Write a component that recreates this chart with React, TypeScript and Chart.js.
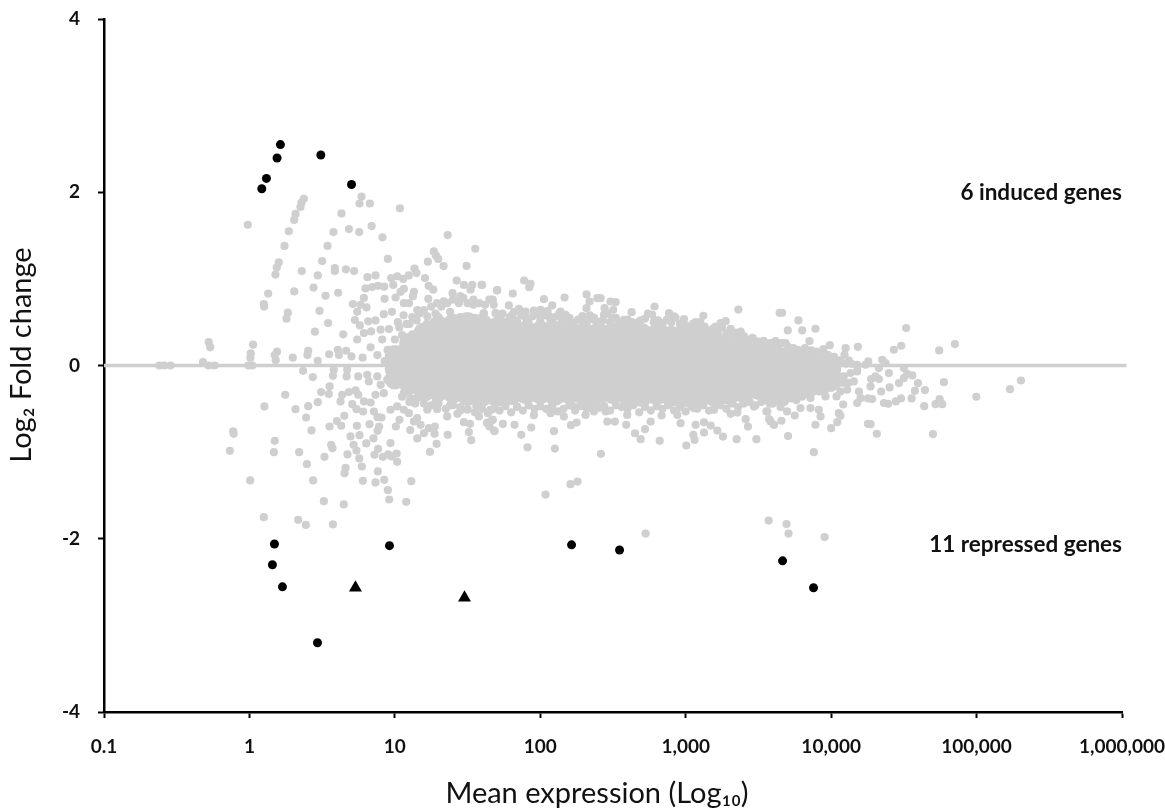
import React, { useEffect, useRef } from "react";
import { Chart, registerables } from "chart.js";

Chart.register(...registerables);

// All pairs are [log10 of mean expression, log2 fold change].
type Pair = [number, number];

const xTickValues = [0.1, 1, 10, 100, 1000, 10000, 100000, 1000000];
const xTickLabels = ["0.1", "1", "10", "100", "1,000", "10,000", "100,000", "1,000,000"];
const yTickValues = [-4, -2, 0, 2, 4];

const inducedCircles: Pair[] = [[0.213, 2.55], [0.19, 2.395], [0.491, 2.43], [0.117, 2.16], [0.085, 2.04], [0.702, 2.09]];
const repressedCircles: Pair[] = [[0.172, -2.06], [0.158, -2.3], [0.227, -2.555], [0.468, -3.2], [0.963, -2.08], [2.215, -2.07], [2.545, -2.13], [3.666, -2.255], [3.879, -2.565]];
const repressedTriangles: Pair[] = [[0.729, -2.565], [1.479, -2.68]];

const zeroLineEnds = [-1, 6.03];

const lowUpper: Pair[] = [
  [0.374,1.925],[0.358,1.88],[0.351,1.83],[0.317,1.75],[0.308,1.68],[-0.011,1.625],[0.271,1.55],[0.241,1.38],[0.202,1.19],[0.188,1.13],[0.179,1.05],[0.129,0.83],[0.099,0.71],[0.101,0.68],[0.308,0.855],[0.264,0.61],[0.255,0.54],[0.36,1.09],[0.47,1.04],[0.441,0.9],[0.523,0.805],[0.61,0.84],[0.482,0.63],[0.541,0.49],[0.45,0.39],[0.645,0.36],[0.5,1.205],[0.537,1.38],[0.578,1.54],[0.633,1.756],[0.684,1.575],[0.755,1.54],[0.84,1.61],[0.915,1.48],[0.952,1.23],[0.587,1.125],[0.587,1.09],[0.663,1.11],[0.72,1.09],[0.771,1.95],[0.757,1.87],[0.828,1.87],[1.035,1.814],[1.363,1.506],[1.553,1.348],[1.268,1.317],[1.282,1.27],[1.298,1.23],[1.227,1.198],[1.335,1.148],[1.493,1.15],[1.135,1.12],[1.149,1.067],[1.207,1.01],[1.096,1.04],[1.057,1.0],[1.016,1.03],[0.975,1.01],[0.989,0.93],[0.812,1.02],[0.867,1.04],[0.798,0.89],[0.844,0.905],[0.885,0.92],[0.927,0.91],[1.062,0.886],[1.039,0.85],[1.005,0.785],[0.929,0.77],[1.131,0.85],[1.124,0.8],[1.232,0.92],[1.264,0.875],[1.23,0.77],[1.425,0.98],[1.475,0.93],[1.532,0.93],[1.596,0.93],[1.52,0.875],[1.397,0.835],[1.702,0.867],[1.672,0.76],[1.7,0.6],[0.711,0.71],[0.787,0.78],[0.764,0.7],[0.741,0.62],[0.805,0.67],[0.725,0.525],[0.759,0.463],[0.817,0.51],[0.867,0.52],[0.924,0.593],[1.062,0.72],[1.097,0.72],[1.154,0.64],[1.223,0.566],[1.29,0.72],[1.337,0.74],[1.45,0.8],[1.54,0.7],[1.61,0.6],[0.741,0.3],[0.787,0.374],[0.837,0.393],[0.833,0.21],[0.902,0.413],[0.913,0.3],[-0.28,0.27],[-0.27,0.21],[0.025,0.24],[0.009,0.14],[0.007,0.09],[0.19,0.16],[0.174,0.12],[0.181,0.06],[0.298,0.09],[0.404,0.17],[0.399,0.12],[0.47,0.055],[0.548,0.13],[0.608,0.18],[0.615,0.12],[0.665,0.17],[0.702,0.105],[0.778,0.09],
  [-0.319,0.04],[-0.282,0],[-0.24,0],[-0.619,0],[-0.585,0],[-0.543,0],[-0.007,0],[0.02,0],
  [0.98,0.62],[1.02,0.5],[1.06,0.58],[1.1,0.48],[1.15,0.52],[0.96,0.42],[1.0,0.3],[1.05,0.35],[1.12,0.36],[0.95,0.18],[1.0,0.12],[1.05,0.2],[1.1,0.16],[0.88,0.12],[0.93,0.05],[0.98,0.0],[1.03,0.04],[1.08,0.02],[1.13,0.1],[1.18,0.42],[1.22,0.48],[1.3,0.56],[1.38,0.62],[1.45,0.56],[1.55,0.55],
  [1.32,0.68],[1.36,0.72],[1.4,0.76],[1.44,0.72],[1.47,0.78],[1.5,0.72],[1.54,0.76],[1.58,0.72],[1.62,0.7],[1.65,0.76],[1.68,0.7],[1.03,0.44],[1.08,0.48],[1.12,0.56],[1.17,0.6],[1.2,0.64],[1.25,0.68],[1.28,0.6],
];

const lowLower: Pair[] = [
  [0.369,-0.061],[0.436,-0.134],[0.246,-0.338],[0.103,-0.473],[0.317,-0.504],[0.404,-0.469],[0.47,-0.423],[0.493,-0.307],[0.546,-0.33],[0.551,-0.242],[0.574,-0.119],[0.58,-0.05],[0.668,-0.126],[0.672,-0.05],[0.748,-0.126],[0.81,-0.107],[0.821,-0.184],[0.626,-0.415],[0.638,-0.338],[0.684,-0.307],[0.73,-0.288],[0.748,-0.338],[0.707,-0.446],[0.736,-0.504],[0.782,-0.531],[0.787,-0.415],[0.833,-0.427],[0.867,-0.338],[0.856,-0.531],[0.881,-0.596],[0.908,-0.6],[0.39,-0.6],[0.427,-0.75],[-0.112,-0.76],[-0.108,-0.789],[0.174,-0.869],[-0.135,-0.985],[0.168,-1.0],[0.342,-1.0],[0.395,-1.139],[0.516,-1.054],[0.562,-0.916],[0.571,-0.954],[0.551,-0.704],[0.601,-0.642],[0.631,-0.696],[0.652,-0.581],[0.739,-0.696],[0.695,-0.819],[0.757,-0.804],[0.716,-0.916],[0.736,-0.981],[0.674,-1.027],[0.755,-1.073],[0.803,-0.9],[0.853,-0.842],[0.826,-0.677],[0.892,-0.704],[0.881,-0.754],[1.007,-0.704],[1.032,-0.627],[0.885,-0.962],[0.86,-1.031],[0.97,-0.896],[0.918,-1.054],[0.954,-1.027],[0.977,-1.05],[1.012,-1.016],[1.016,-1.112],[0.773,-1.166],[0.661,-1.181],[0.654,-1.243],[0.883,-1.223],[0.78,-1.331],[0.867,-1.35],[0.927,-1.32],[1.113,-1.335],[0.952,-1.439],[0.961,-1.547],[1.078,-1.574],[0.649,-1.604],[0.512,-1.566],[0.438,-1.327],[0.005,-1.327],[0.099,-1.751],[0.335,-1.782],[0.388,-1.84],[0.574,-1.835],[1.106,-0.746],[1.154,-0.842],[1.131,-0.646],[1.177,-0.685],[1.2,-0.781],[1.234,-0.723],[1.275,-0.704],[1.273,-0.789],[1.287,-0.904],[1.241,-0.996],[1.363,-0.8],[1.475,-0.654],[1.516,-0.673],[1.509,-0.769],[1.525,-0.862],[1.36,-0.588],[1.43,-0.558],[1.635,-0.658],[1.674,-0.627],[1.651,-0.704],[1.686,-0.758],[1.223,-0.511],[1.291,-0.504],[0.97,-0.511],[1.016,-0.473],[1.062,-0.511],[1.096,-0.55],[1.154,-0.607],[1.578,-0.588],[1.658,-0.511],[1.498,-0.511],[0.924,-0.319],[0.947,-0.165],[0.879,-0.126],[1.062,-0.319],[1.108,-0.377],[0.902,-0.223],[1.36,-0.319],
  [1.13,-0.17],[1.17,-0.3],[1.22,-0.36],[1.28,-0.42],[1.38,-0.46],[1.45,-0.48],[1.56,-0.47],[1.0,-0.12],[1.04,-0.2],[1.14,-0.44],
];

const midUpper: Pair[] = [
  [1.6,0.93],[1.704,0.87],[1.672,0.758],[1.811,0.831],[1.889,0.981],[1.933,0.943],[1.924,0.904],[1.784,0.693],[2.025,0.766],[2.167,0.785],[2.318,0.82],[2.339,0.739],[2.318,0.662],[2.392,0.777],[2.415,0.777],[2.483,0.739],[2.518,0.731],[2.442,0.662],[2.502,0.643],[2.438,0.585],[2.495,0.546],[2.628,0.616],[2.786,0.681],[2.77,0.585],[2.885,0.604],[2.919,0.566],[2.988,0.535],[3.121,0.573],[3.068,0.5],[3.275,0.512],[3.24,0.489],[3.206,0.45],[3.362,0.646],[3.646,0.608],[3.309,0.423],[3.378,0.392],[3.126,0.404],[3.458,0.308],[3.534,0.285],[3.619,0.277],[1.692,0.604],[1.727,0.566],[1.807,0.585],[1.853,0.654],[1.899,0.623],[1.956,0.635],[2.002,0.643],[2.082,0.693],[2.059,0.566],[2.139,0.623],[2.174,0.585],[2.277,0.527],[2.369,0.527],[2.575,0.527],[2.679,0.508],[2.839,0.489],[2.965,0.45],[3.057,0.392],[1.612,0.604],
  [1.71,0.55],[1.74,0.6],[1.76,0.5],[1.79,0.56],[1.82,0.62],[1.84,0.52],[1.87,0.58],[1.9,0.55],[1.92,0.5],[1.95,0.57],[1.98,0.6],[2.0,0.52],[2.03,0.58],[2.05,0.63],[2.07,0.5],[2.1,0.56],[2.13,0.6],[2.15,0.52],[2.18,0.5],[2.2,0.55],[2.23,0.49],[2.26,0.53],[2.29,0.57],[2.32,0.5],[2.34,0.58],[2.37,0.55],[2.4,0.5],[2.43,0.52],[2.46,0.6],[2.48,0.5],[2.52,0.55],[2.54,0.5],[2.57,0.48],[2.6,0.53],[2.63,0.5],[2.66,0.47],[2.69,0.52],[2.72,0.54],[2.74,0.6],[2.78,0.5],[2.81,0.52],[2.84,0.46],[2.87,0.53],[2.9,0.5],[2.93,0.55],[2.96,0.48],[3.0,0.46],[3.02,0.42],[3.05,0.48],[3.08,0.44],[3.1,0.5],[3.13,0.45],[3.16,0.4],[3.19,0.43],[3.22,0.38],[3.25,0.44],[3.28,0.37],[3.31,0.36],[3.34,0.38],[3.37,0.33],[3.4,0.34],[3.43,0.3],[3.46,0.32],[3.49,0.28],[3.52,0.27],[3.55,0.25],[3.58,0.26],[3.62,0.22],[3.66,0.26],[3.7,0.22],[3.74,0.2],[3.78,0.16],[3.82,0.2],[3.86,0.12],[3.9,0.16],[3.94,0.1],[3.98,0.12],[4.02,0.1],[4.06,0.06],[4.1,0.02],[4.14,0.02],[4.18,-0.02],
];

const midLower: Pair[] = [
  [1.635,-0.666],[1.669,-0.628],[1.681,-0.751],[1.743,-0.674],[1.823,-0.685],[1.869,-0.8],[1.938,-0.716],[2.094,-0.758],[2.1,-0.959],[2.417,-1.02],[2.211,-0.689],[2.25,-0.658],[1.956,-0.574],[2.162,-0.589],[2.311,-0.57],[2.369,-0.531],[2.461,-0.647],[2.513,-0.647],[2.591,-0.685],[2.598,-0.57],[2.651,-0.782],[2.69,-0.851],[2.72,-0.735],[2.821,-0.87],[2.759,-0.647],[2.834,-0.577],[2.965,-0.666],[3.004,-0.924],[3.052,-0.8],[3.061,-0.859],[3.068,-0.685],[3.126,-0.655],[3.126,-0.774],[3.172,-0.693],[3.217,-0.751],[3.256,-0.82],[3.35,-0.851],[3.486,-0.851],[3.412,-0.62],[3.428,-0.705],[3.309,-0.558],[3.355,-0.543],[3.561,-0.531],[3.607,-0.685],[3.573,-0.62],[1.841,-0.474],[1.658,-0.512],[2.071,-0.55],[2.231,-0.474],[2.449,-0.531],[2.942,-0.57],[3.057,-0.493],[3.195,-0.512],[3.47,-0.474],
  [1.912,-0.945],[2.036,-1.49],[2.208,-1.37],[2.256,-1.34],[2.724,-1.94],[3.57,-1.79],[3.693,-1.83],[3.707,-1.94],[3.955,-1.98],
  [1.05,-0.36],[1.1,-0.42],[1.15,-0.38],[1.2,-0.44],[1.25,-0.46],[1.3,-0.44],[1.35,-0.5],[1.4,-0.46],[1.45,-0.52],[1.5,-0.5],[1.55,-0.54],[1.6,-0.5],[1.64,-0.55],[1.68,-0.5],[1.72,-0.52],[1.76,-0.47],[1.8,-0.54],[1.84,-0.48],[1.88,-0.52],[1.92,-0.46],[1.96,-0.5],[2.0,-0.47],[2.04,-0.5],[2.08,-0.47],[2.12,-0.53],[2.16,-0.5],[2.2,-0.46],[2.24,-0.52],[2.28,-0.47],[2.32,-0.5],[2.36,-0.46],[2.4,-0.49],[2.44,-0.47],[2.48,-0.52],[2.52,-0.46],[2.56,-0.48],[2.6,-0.5],[2.64,-0.46],[2.68,-0.54],[2.72,-0.48],[2.76,-0.52],[2.8,-0.47],[2.84,-0.5],[2.88,-0.46],[2.92,-0.52],[2.96,-0.48],[3.0,-0.53],[3.04,-0.47],[3.08,-0.5],[3.12,-0.46],[3.16,-0.52],[3.2,-0.48],[3.24,-0.46],[3.28,-0.5],[3.32,-0.44],[3.36,-0.48],[3.4,-0.44],[3.44,-0.42],[3.48,-0.46],[3.52,-0.42],[3.56,-0.4],[3.6,-0.44],[3.64,-0.4],[3.68,-0.42],[3.72,-0.38],[3.76,-0.4],[3.8,-0.36],[3.84,-0.33],[3.88,-0.3],[3.92,-0.3],[3.96,-0.28],[4.0,-0.26],[4.04,-0.22],[4.08,-0.2],[4.12,-0.2],
];

const highTail: Pair[] = [
  [3.663,0.609],[3.775,0.52],[3.702,0.405],[3.801,0.405],[3.892,0.424],[3.851,0.282],[3.617,0.282],[3.537,0.278],[3.686,0.259],[3.771,0.182],[3.64,0.182],[3.863,0.174],[3.87,0.124],[3.947,0.189],[3.991,0.235],[4.099,0.2],[4.184,0.216],[4.092,0.124],[4.122,0.058],[3.973,0.085],[4.019,0.066],[4.516,0.432],[4.431,0.182],[4.482,0.228],[4.743,0.174],[4.851,0.247],[4.351,0.066],[4.374,0.028],[4.255,0.047],[4.236,0.008],[4.5,-0.03],[4.179,-0.069],[4.133,-0.088],[4.397,-0.088],[4.328,-0.03],[4.305,-0.126],[4.275,-0.157],[4.328,-0.157],[4.558,-0.115],[4.523,-0.096],[4.5,-0.146],[4.466,-0.203],[4.597,-0.203],[4.775,-0.192],[5.305,-0.173],[5.23,-0.273],[4.998,-0.361],[4.402,-0.253],[4.344,-0.3],[4.271,-0.242],[4.191,-0.3],[4.202,-0.377],[4.179,-0.434],[4.253,-0.38],[4.282,-0.388],[4.363,-0.434],[4.392,-0.442],[4.445,-0.415],[4.48,-0.38],[4.553,-0.38],[4.576,-0.292],[4.645,-0.284],[4.64,-0.469],[4.746,-0.388],[4.718,-0.446],[4.764,-0.446],[4.7,-0.792],[4.314,-0.788],[4.253,-0.673],[4.271,-0.677],[4.083,-0.45],[4.037,-0.357],[3.961,-0.357],[4.11,-0.28],[4.064,-0.3],[4.053,-0.55],[4.064,-0.58],[4.042,-0.654],[4.0,-0.723],[3.892,-0.684],[3.927,-0.588],[3.915,-0.511],[3.881,-1.0],[3.704,-0.815],[3.606,-0.684],[3.583,-0.646],[3.658,-0.638],[3.555,-0.53],[3.652,-0.48],[3.75,-0.577],[3.697,-0.53],[3.858,-0.492],[3.789,-0.492],[3.578,-0.442],
  [4.087,-0.126],[3.973,-0.126],[4.041,-0.049],[3.973,-0.203],[3.858,-0.28],[3.858,-0.376],[3.766,-0.319],[3.652,-0.357],[4.156,-0.184],[3.881,-0.011],[3.789,0.066],[3.927,-0.222],[4.019,-0.242],[4.076,0.028],[4.179,0.008],
];

// The densest part of the cloud: one log10 mean with the fold changes stacked above it.
// These are drawn with a larger marker, since individual points merge there.
const denseColumns: [number, number[]][] = [
  [1.0,[0.12,-0.04,-0.16]],
  [1.1,[0.26,0.1,-0.06,-0.22]],
  [1.2,[0.38,0.22,0.06,-0.1,-0.26,-0.3]],
  [1.3,[0.46,0.3,0.14,-0.02,-0.18,-0.3]],
  [1.4,[0.48,0.32,0.16,0,-0.16,-0.32]],
  [1.5,[0.5,0.34,0.18,0.02,-0.14,-0.3,-0.35]],
  [1.6,[0.48,0.32,0.16,0,-0.16,-0.32,-0.36]],
  [1.7,[0.44,0.28,0.12,-0.04,-0.2,-0.36]],
  [1.8,[0.42,0.26,0.1,-0.06,-0.22,-0.34]],
  [1.9,[0.4,0.24,0.08,-0.08,-0.24,-0.33]],
  [2.0,[0.4,0.24,0.08,-0.08,-0.24,-0.33]],
  [2.1,[0.4,0.24,0.08,-0.08,-0.24,-0.35]],
  [2.2,[0.38,0.22,0.06,-0.1,-0.24,-0.33]],
  [2.3,[0.38,0.22,0.06,-0.1,-0.24,-0.35]],
  [2.4,[0.38,0.22,0.06,-0.1,-0.24,-0.33]],
  [2.5,[0.38,0.22,0.06,-0.1,-0.24,-0.33]],
  [2.6,[0.38,0.22,0.06,-0.1,-0.24,-0.35]],
  [2.7,[0.37,0.21,0.05,-0.11,-0.25,-0.36]],
  [2.8,[0.36,0.2,0.04,-0.12,-0.26,-0.34]],
  [2.9,[0.34,0.18,0.02,-0.14,-0.26,-0.36]],
  [3.0,[0.32,0.16,0,-0.16,-0.28,-0.36]],
  [3.1,[0.3,0.14,-0.02,-0.18,-0.3,-0.37]],
  [3.2,[0.28,0.12,-0.04,-0.2,-0.32,-0.36]],
  [3.3,[0.24,0.08,-0.08,-0.24,-0.34]],
  [3.4,[0.2,0.04,-0.12,-0.26,-0.32]],
  [3.5,[0.16,0,-0.14,-0.28]],
  [3.6,[0.14,-0.02,-0.18,-0.3]],
  [3.7,[0.1,-0.06,-0.22,-0.3]],
  [3.8,[0.06,-0.1,-0.24]],
  [3.9,[0.04,-0.1,-0.2]],
  [4.0,[0,-0.12]],
];

const annotations = [
  { text: "6 induced genes", y: 2 },
  { text: "11 repressed genes", y: -2.07 },
];

const xTitle = "Mean expression (Log₁₀)";
const yTitle = "Log₂ Fold change";

const GREY = "#cfcfcf";
const FONT = "Lato, 'Open Sans', sans-serif";

const toXY = (list: Pair[]) => list.map(([l, v]) => ({ x: Math.pow(10, l), y: v }));
const denseXY = denseColumns.flatMap(([l, vs]) => vs.map((v) => ({ x: Math.pow(10, l), y: v })));

const textPlugin = {
  id: "chartTexts",
  afterDatasetsDraw(chart: any) {
    const { ctx, chartArea, scales } = chart;
    ctx.save();
    ctx.fillStyle = "#111";
    ctx.textBaseline = "middle";
    ctx.font = `bold 22.5px ${FONT}`;
    ctx.textAlign = "right";
    annotations.forEach((a) => ctx.fillText(a.text, chartArea.right, scales.y.getPixelForValue(a.y)));
    ctx.textAlign = "center";
    ctx.font = `29px ${FONT}`;
    ctx.fillText(xTitle, 597, 794);
    ctx.translate(22, 355);
    ctx.rotate(-Math.PI / 2);
    ctx.fillText(yTitle, 0, 0);
    ctx.restore();
  },
};

export default function App() {
  const ref = useRef<HTMLCanvasElement>(null);
  useEffect(() => {
    const grey = (data: any[], radius = 4.1) => ({
      type: "scatter" as const,
      data,
      pointRadius: radius,
      pointHoverRadius: radius,
      pointBackgroundColor: GREY,
      pointBorderWidth: 0,
      showLine: false,
      clip: false as const,
    });
    const chart = new Chart(ref.current!, {
      type: "scatter",
      plugins: [textPlugin],
      data: {
        datasets: [
          {
            type: "line",
            data: zeroLineEnds.map((l) => ({ x: Math.pow(10, l), y: 0 })),
            borderColor: GREY,
            borderWidth: 3.5,
            pointRadius: 0,
            clip: false,
          } as any,
          grey(denseXY, 10.2),
          grey(toXY(lowUpper)),
          grey(toXY(lowLower)),
          grey(toXY(midUpper)),
          grey(toXY(midLower)),
          grey(toXY(highTail)),
          { data: toXY(inducedCircles), pointRadius: 4.5, pointBackgroundColor: "#000", pointBorderWidth: 0 },
          { data: toXY(repressedCircles), pointRadius: 4.5, pointBackgroundColor: "#000", pointBorderWidth: 0 },
          { data: toXY(repressedTriangles), pointStyle: "triangle", pointRadius: 7.5, pointBackgroundColor: "#000", pointBorderWidth: 0 },
        ],
      },
      options: {
        responsive: false,
        animation: false,
        layout: { padding: { left: 0, top: 19, right: 43, bottom: 0 } },
        plugins: { legend: { display: false }, tooltip: { enabled: false } },
        scales: {
          x: {
            type: "logarithmic",
            min: 0.1,
            max: 1000000,
            afterBuildTicks: (axis: any) => {
              axis.ticks = xTickValues.map((value) => ({ value }));
            },
            afterFit: (axis: any) => {
              axis.height = 98;
              axis.paddingLeft = 0;
              axis.paddingRight = 0;
            },
            grid: { drawOnChartArea: false, color: "#000", tickLength: 6, tickWidth: 2 },
            border: { color: "#000", width: 2.5 },
            ticks: {
              autoSkip: false,
              maxRotation: 0,
              padding: 17,
              color: "#111",
              font: { family: FONT, size: 19, weight: "bold" },
              callback: (value: any) => xTickLabels[xTickValues.indexOf(Number(value))] ?? "",
            },
          },
          y: {
            type: "linear",
            min: -4,
            max: 4,
            afterBuildTicks: (axis: any) => {
              axis.ticks = yTickValues.map((value) => ({ value }));
            },
            afterFit: (axis: any) => {
              axis.width = 104;
              axis.paddingTop = 0;
              axis.paddingBottom = 0;
            },
            grid: { drawOnChartArea: false, color: "#000", tickLength: 6, tickWidth: 2 },
            border: { color: "#000", width: 2.5 },
            ticks: {
              padding: 18,
              color: "#111",
              font: { family: FONT, size: 19, weight: "bold" },
            },
          },
        },
      },
    } as any);
    return () => chart.destroy();
  }, []);
  return (
    <div style={{ position: "absolute", left: 0, top: 0, width: 1165, height: 810, background: "#fff" }}>
      <canvas ref={ref} width={1165} height={810} style={{ display: "block" }} />
    </div>
  );
}
